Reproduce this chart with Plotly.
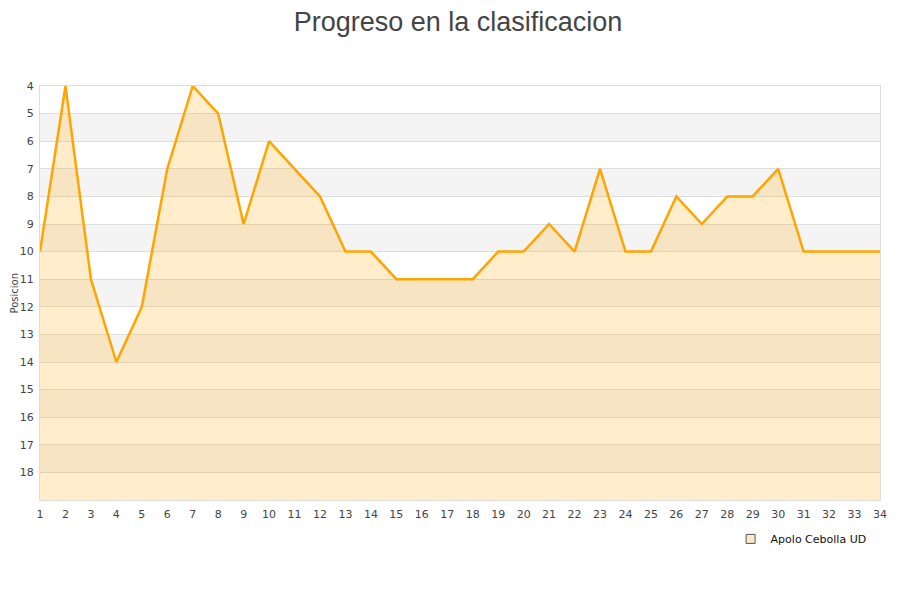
import plotly.graph_objects as go

jornadas = list(range(1, 35))
posiciones = [10, 4, 11, 14, 12, 7, 4, 5, 9, 6, 7, 8, 10, 10, 11, 11, 11, 11,
              10, 10, 9, 10, 7, 10, 10, 8, 9, 8, 8, 7, 10, 10, 10, 10]
equipo = "Apolo Cebolla UD"
y_ticks = list(range(4, 19))
y_min, y_max = 4, 19

fig = go.Figure()

# baseline for fill
fig.add_trace(go.Scatter(x=jornadas, y=[y_max] * len(jornadas), mode="lines",
                         line=dict(width=0, color="rgba(0,0,0,0)"),
                         showlegend=False, hoverinfo="skip"))
fig.add_trace(go.Scatter(x=jornadas, y=posiciones, mode="lines", fill="tonexty",
                         fillcolor="rgba(255,165,0,0.2)",
                         line=dict(color="#ffa500", width=2.5),
                         showlegend=False, name=equipo))
# legend entry
fig.add_trace(go.Scatter(x=[None], y=[None], mode="markers", name=equipo,
                         marker=dict(symbol="square", size=9, color="#fde9c4",
                                     line=dict(color="#555", width=1))))

shapes = []
for p in range(y_min, y_max):
    if p % 2 == 1:
        shapes.append(dict(type="rect", xref="paper", yref="y", x0=0, x1=1,
                           y0=p, y1=p + 1, fillcolor="#f4f4f4",
                           line=dict(width=0), layer="below"))

fig.update_layout(
    width=900, height=600,
    margin=dict(l=32, r=28, t=78, b=108, autoexpand=False),
    paper_bgcolor="white", plot_bgcolor="white",
    title=dict(text="Progreso en la clasificacion", x=0.5, xanchor="center",
               y=0.993, yanchor="top",
               font=dict(family="Liberation Sans, Arial", size=27, color="#444")),
    shapes=shapes,
    font=dict(family="DejaVu Sans", size=11, color="#444"),
    showlegend=True,
    legend=dict(x=0.99, xanchor="right", y=-0.094, yanchor="middle",
                font=dict(family="DejaVu Sans", size=11, color="#111"),
                bgcolor="rgba(0,0,0,0)", itemwidth=30),
    annotations=[dict(text="Posicion", xref="paper", yref="paper",
                      x=-0.0381, y=0.5, xanchor="left", yanchor="middle",
                      textangle=-90, showarrow=False, borderpad=0,
                      font=dict(size=10, color="#444"))],
)
fig.update_xaxes(range=[1, 34], tickmode="array", tickvals=jornadas,
                 showgrid=False, showline=True, linecolor="#ddd", linewidth=1,
                 mirror=True, zeroline=False, ticks="outside", ticklen=4,
                 tickcolor="rgba(0,0,0,0)", automargin=False,
                 tickfont=dict(size=11, color="#444"))
fig.update_yaxes(range=[y_max, y_min], tickmode="array", tickvals=y_ticks,
                 showgrid=True, gridcolor="#dddddd", gridwidth=1,
                 showline=True, linecolor="#ddd", linewidth=1, mirror=True,
                 zeroline=False, ticks="outside", ticklen=3,
                 tickcolor="rgba(0,0,0,0)", automargin=False,
                 tickfont=dict(size=11, color="#444"))

fig.write_html("out.html")
